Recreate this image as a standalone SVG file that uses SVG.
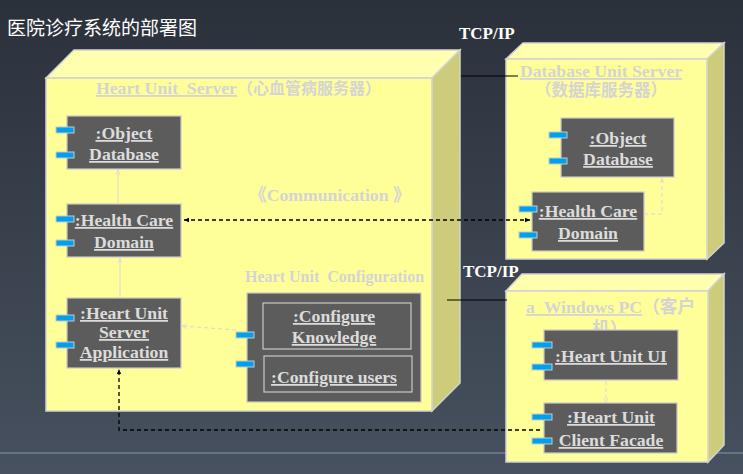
<svg xmlns="http://www.w3.org/2000/svg" width="743" height="474" viewBox="0 0 743 474">
<defs>
<linearGradient id="bg" x1="0" y1="0" x2="0" y2="1">
<stop offset="0" stop-color="#2b313b"/>
<stop offset="1" stop-color="#47515f"/>
</linearGradient>
<marker id="la" viewBox="0 0 8 8" refX="7" refY="4" markerWidth="6" markerHeight="6" orient="auto" markerUnits="userSpaceOnUse">
<path d="M0,1 L7,4 L0,7" fill="none" stroke="#d8d8d8" stroke-width="1"/>
</marker>
<marker id="ba" viewBox="0 0 8 8" refX="7" refY="4" markerWidth="6" markerHeight="6" orient="auto" markerUnits="userSpaceOnUse">
<path d="M0,1 L7,4 L0,7 z" fill="#000"/>
</marker>
<marker id="bas" viewBox="0 0 8 8" refX="1" refY="4" markerWidth="6" markerHeight="6" orient="auto" markerUnits="userSpaceOnUse">
<path d="M8,1 L1,4 L8,7 z" fill="#000"/>
</marker>
</defs>
<style>
.front{fill:#ffff99;stroke:#d2d2d2;stroke-width:1.5}
.top{fill:#ffffb0;stroke:#d2d2d2;stroke-width:1.5}
.side{fill:#cccc7a;stroke:#d2d2d2;stroke-width:1.5}
.comp{fill:#5c5c5c;stroke:#c8c8c8;stroke-width:1.2}
.inner{fill:none;stroke:#c8c8c8;stroke-width:1.2}
.tab{fill:#00a0f0;stroke:#c8c8c8;stroke-width:1}
.ct{font-family:"Liberation Serif","Noto Sans CJK SC",serif;font-weight:bold;font-size:17.7px;fill:#dcdcdc;text-anchor:middle;text-decoration:underline}
.nt{font-family:"Liberation Serif","Noto Sans CJK SC",serif;font-weight:bold;fill:#d4d4d4;white-space:pre}
.u{text-decoration:underline}
.tcp{font-family:"Liberation Serif",serif;font-weight:bold;font-size:17px;fill:#ffffff}
.ld{fill:none;stroke:#d8d8d8;stroke-width:1;stroke-dasharray:4,3}
.ls{fill:none;stroke:#d8d8d8;stroke-width:1}
.bd{fill:none;stroke:#000;stroke-width:1.3;stroke-dasharray:4,3}
</style>
<rect x="0" y="0" width="743" height="474" fill="url(#bg)"/>
<line x1="0" y1="453" x2="743" y2="453" stroke="#8898a8" stroke-width="1.2"/>
<text x="7" y="35" font-family="'Noto Sans CJK SC','Noto Sans',sans-serif" font-size="19" fill="#ffffff">医院诊疗系统的部署图</text>

<g id="heart-unit-server">
<polygon class="top" points="46,78 74,50 460,50 432,78"/>
<polygon class="side" points="432,78 460,50 460,383 432,411"/>
<rect class="front" x="46" y="78" width="386" height="333"/>
<text class="nt" x="96" y="94" font-size="17.7"><tspan class="u">Heart Unit &#160;Server</tspan><tspan font-size="16">（心血管病服务器）</tspan></text>
<text class="nt" x="249" y="201" font-size="17.7">《Communication 》</text>
<text class="nt" x="245" y="282" font-size="16">Heart Unit &#160;Configuration</text>
</g>

<g id="main-object-database">
<rect class="comp" x="67" y="116" width="114" height="53"/>
<rect class="tab" x="56" y="127" width="18" height="6"/>
<rect class="tab" x="56" y="152" width="18" height="6"/>
<text class="ct" x="124" y="139">:Object</text>
<text class="ct" x="124" y="160">Database</text>
</g>

<g id="main-health-care-domain">
<rect class="comp" x="67" y="204" width="114" height="53"/>
<rect class="tab" x="56" y="216" width="18" height="6"/>
<rect class="tab" x="56" y="240" width="18" height="6"/>
<text class="ct" x="124" y="226">:Health Care</text>
<text class="ct" x="124" y="248">Domain</text>
</g>

<g id="server-application">
<rect class="comp" x="67" y="298" width="114" height="70"/>
<rect class="tab" x="56" y="315" width="18" height="6"/>
<rect class="tab" x="56" y="342" width="18" height="6"/>
<text class="ct" x="124" y="319">:Heart Unit</text>
<text class="ct" x="124" y="338">Server</text>
<text class="ct" x="124" y="358">Application</text>
</g>

<g id="heart-unit-configuration">
<rect class="comp" x="247" y="293" width="174" height="109"/>
<rect class="inner" x="263" y="303" width="148" height="46"/>
<rect class="inner" x="264" y="356" width="148" height="36"/>
<rect class="tab" x="236" y="332" width="18" height="6"/>
<rect class="tab" x="236" y="361" width="18" height="6"/>
<text class="ct" x="334" y="322">:Configure</text>
<text class="ct" x="334" y="343">Knowledge</text>
<text class="ct" x="334" y="383">:Configure users</text>
</g>

<g id="database-unit-server">
<polygon class="top" points="506,59 523,43 724,43 707,59"/>
<polygon class="side" points="707,59 724,43 724,243 707,259"/>
<rect class="front" x="506" y="59" width="201" height="200"/>
<text class="nt" x="520" y="77" font-size="17.7"><tspan class="u">Database Unit Server</tspan></text>
<text class="nt" x="535" y="96" font-size="16.5">（数据库服务器）</text>
</g>

<g id="db-object-database">
<rect class="comp" x="561" y="118" width="113" height="59"/>
<rect class="tab" x="549" y="132" width="18" height="6"/>
<rect class="tab" x="549" y="158" width="18" height="6"/>
<text class="ct" x="618" y="144">:Object</text>
<text class="ct" x="618" y="165">Database</text>
</g>

<g id="db-health-care-domain">
<rect class="comp" x="532" y="192" width="112" height="59"/>
<rect class="tab" x="519" y="206" width="18" height="6"/>
<rect class="tab" x="519" y="232" width="18" height="6"/>
<text class="ct" x="588" y="217">:Health Care</text>
<text class="ct" x="588" y="239">Domain</text>
</g>

<g id="windows-pc">
<polygon class="top" points="506,291 522,274 724,274 708,291"/>
<polygon class="side" points="708,291 724,274 724,445 708,462"/>
<rect class="front" x="506" y="291" width="202" height="171"/>
<text class="nt" x="526" y="313" font-size="17.7"><tspan class="u">a &#160;Windows PC</tspan>（客户</text>
<text class="nt" x="592" y="335" font-size="17.7">机）</text>
</g>

<g id="heart-unit-ui">
<rect class="comp" x="544" y="330" width="134" height="50"/>
<rect class="tab" x="532" y="342" width="20" height="6"/>
<rect class="tab" x="532" y="364" width="20" height="6"/>
<text class="ct" x="611" y="362">:Heart Unit UI</text>
</g>

<g id="client-facade">
<rect class="comp" x="544" y="403" width="133" height="50"/>
<rect class="tab" x="532" y="414" width="20" height="6"/>
<rect class="tab" x="532" y="438" width="20" height="6"/>
<text class="ct" x="611" y="423">:Heart Unit</text>
<text class="ct" x="611" y="446">Client Facade</text>
</g>

<g id="connectors">
<line x1="461" y1="76" x2="518" y2="76" stroke="#000" stroke-width="1.2"/>
<line x1="447" y1="300" x2="507" y2="300" stroke="#000" stroke-width="1.2"/>
<line class="ls" x1="118" y1="203" x2="118" y2="170" marker-end="url(#la)"/>
<line class="ls" x1="120" y1="297" x2="120" y2="258" marker-end="url(#la)"/>
<path class="ld" d="M236,330 L182,326" marker-end="url(#la)"/>
<path class="ld" d="M644,214 H662 V178" marker-end="url(#la)"/>
<path class="ld" d="M606,381 V403" marker-end="url(#la)"/>
<path class="bd" d="M184,220 L530,220" marker-start="url(#bas)" marker-end="url(#ba)"/>
<path class="bd" d="M540,430 H119 V369" marker-end="url(#ba)"/>
</g>
<text class="tcp" x="459" y="39">TCP/IP</text>
<text class="tcp" x="463" y="277">TCP/IP</text>
</svg>
